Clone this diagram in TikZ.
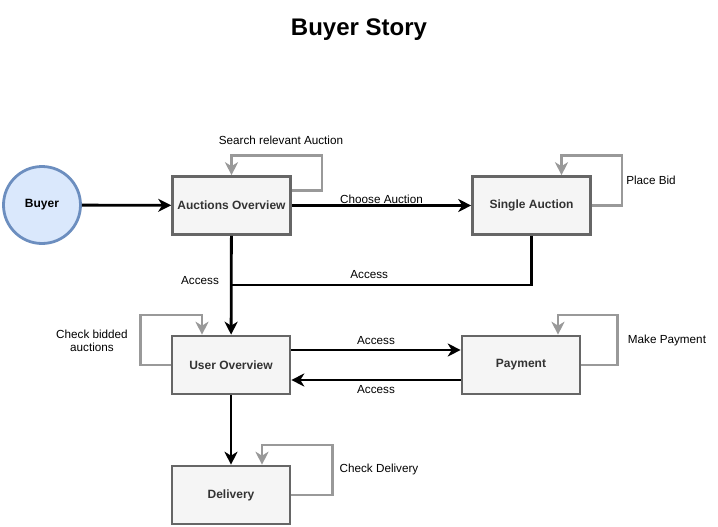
\documentclass[tikz,border=0pt]{standalone}
\usepackage{fontspec}
\setmainfont{Liberation Sans}
\usepackage{tikz}
\usetikzlibrary{arrows.meta}

\definecolor{boxfill}{HTML}{F5F5F5}
\definecolor{boxline}{HTML}{666666}
\definecolor{boxtext}{HTML}{333333}
\definecolor{buyerfill}{HTML}{DAE8FC}
\definecolor{buyerline}{HTML}{6C8EBF}
\definecolor{loopline}{HTML}{999999}

\tikzset{
	stage/.style={draw=boxline, fill=boxfill, line width=2.6pt, minimum width=118pt,
		minimum height=58pt, inner sep=0pt, text=boxtext, font=\fontsize{12}{14}\selectfont\bfseries},
	actor/.style={circle, draw=buyerline, fill=buyerfill, line width=2.8pt, minimum size=77pt,
		inner sep=0pt, font=\fontsize{12}{14}\selectfont\bfseries},
	flow/.style={line width=2.8pt, -{Stealth[length=13pt, width=13pt, inset=4pt]}},
	plain/.style={line width=2.8pt},
	selfloop/.style={draw=loopline, line width=2.6pt, -{Stealth[length=13pt, width=13pt, inset=4pt]}},
	lbl/.style={font=\fontsize{11.7}{13.5}\selectfont, inner sep=0pt, align=center}
}

\begin{document}
\begin{tikzpicture}[x=1pt, y=-1pt]
				\useasboundingbox (0,0) rectangle (718,527);
				\node[font=\fontsize{24}{28}\selectfont\bfseries] (title) at (359,30) {Buyer Story};
				
				% actor
				\node[actor] (buyer) at (42,205) {Buyer};
				
				% stages
				\foreach \n/\x/\y/\t in
				{ao/231.5/205.5/Auctions Overview, sa/531.5/205.5/Single Auction,
				 uo/231/365/User Overview, pay/521/365/Payment, del/231/495/Delivery}{
					\node[stage] (\n) at (\x,\y) {\t};
				}
				\coordinate (join) at (231,285);
				
				% main flow
				\draw[flow] (buyer) -- (ao);
				\draw[flow] (ao) -- node[lbl, yshift=6pt]{Choose Auction} (sa);
				\draw[flow] (ao) -- node[lbl, pos=0.45, left=11pt]{Access} (uo);
				\draw[plain] (sa.south) |- node[lbl, pos=0.77, yshift=10pt]{Access} (join);
				\draw[flow] ([yshift=15pt]uo.east) -- node[lbl, yshift=9pt]{Access} ([yshift=15pt]pay.west);
				\draw[flow] ([yshift=-15pt]pay.west) -- node[lbl, yshift=-10pt]{Access} ([yshift=-15pt]uo.east);
				\draw[flow] (uo) -- (del);
				
				% self loops
				\draw[selfloop] ([yshift=15pt]ao.east) -- ++(30,0) -- ++(0,-35) -| (ao.north);
				\draw[selfloop] (sa.east) -- ++(30,0) -- ++(0,-50) -| ([xshift=30pt]sa.north);
				\draw[selfloop] (uo.west) -- ++(-30,0) -- ++(0,-50) -| ([xshift=-29pt]uo.north);
				\draw[selfloop] (pay.east) -- ++(36,0) -- ++(0,-50) -| ([xshift=37pt]pay.north);
				\draw[selfloop] (del.east) -- ++(41,0) -- ++(0,-50) -| ([xshift=31pt]del.north);
				
				% loop labels
				\node[lbl] (aoloop) at (281,140) {Search relevant Auction};
				\node[lbl] (saloop) at (651,180) {Place Bid};
				\node[lbl] (uoloop) at (92,341) {Check bidded\\auctions};
				\node[lbl] (payloop) at (667,340) {Make Payment};
				\node[lbl] (delloop) at (379,469) {Check Delivery};
			\end{tikzpicture}
\end{document}
